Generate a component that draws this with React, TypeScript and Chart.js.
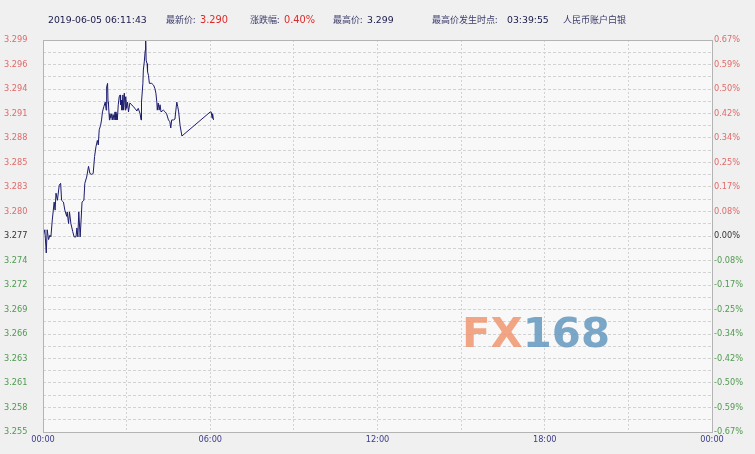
import React, { useEffect, useRef } from 'react';
import { Chart, registerables } from 'chart.js';

Chart.register(...registerables);

// ---- data ----
const prevClose = 3.2771;
const rangePct = 0.0067;

const timesMin = [
  0, 4, 7, 9, 12, 15, 17, 20, 24, 26, 28, 31, 35, 38, 40, 44, 47, 51, 52, 55, 57, 60,
  64, 67, 71, 73, 75, 77, 80, 82, 84, 88, 90, 94, 98, 101, 105, 108, 111, 114, 117, 119,
  121, 124, 126, 128, 131, 134, 136, 137, 139, 140, 141, 143, 144, 146, 148, 149, 151, 153,
  155, 157, 159, 160, 162, 164, 166, 167, 169, 170, 172, 173, 175, 177, 178, 180, 182, 184,
  187, 191, 194, 198, 202, 205, 209, 211, 212, 215, 216, 218, 220, 221, 222, 224, 225, 227,
  229, 234, 238, 241, 243, 245, 246, 248, 250, 252, 254, 256, 259, 263, 266, 270, 273, 275,
  277, 281, 284, 286, 288, 290, 292, 295, 299, 360, 362, 364, 365, 367,
];

const prices = [
  3.2770, 3.2778, 3.2752, 3.2778, 3.2767, 3.2772, 3.2770, 3.2789, 3.2809, 3.2800, 3.2819, 3.2811,
  3.2828, 3.2830, 3.2811, 3.2809, 3.2800, 3.2793, 3.2798, 3.2785, 3.2798, 3.2785,
  3.2776, 3.2770, 3.2770, 3.2780, 3.2770, 3.2798, 3.2770, 3.2789, 3.2809, 3.2811, 3.2830, 3.2837,
  3.2849, 3.2841, 3.2840, 3.2841, 3.2860, 3.2871, 3.2878, 3.2873,
  3.2890, 3.2895, 3.2901, 3.2910, 3.2916, 3.2921, 3.2912, 3.2938, 3.2942, 3.2921, 3.2918, 3.2901,
  3.2908, 3.2903, 3.2908, 3.2901, 3.2907, 3.2901,
  3.2910, 3.2901, 3.2908, 3.2901, 3.2918, 3.2927, 3.2929, 3.2918, 3.2923, 3.2912, 3.2929, 3.2912,
  3.2931, 3.2912, 3.2927, 3.2914, 3.2921, 3.2910,
  3.2920, 3.2918, 3.2916, 3.2914, 3.2911, 3.2914, 3.2908, 3.2901, 3.2921, 3.2942, 3.2957, 3.2966,
  3.2979, 3.2991, 3.2968, 3.2964, 3.2955, 3.2951,
  3.2942, 3.2942, 3.2940, 3.2936, 3.2931, 3.2921, 3.2912, 3.2920, 3.2912, 3.2918, 3.2910, 3.2910,
  3.2912, 3.2910, 3.2908, 3.2901, 3.2899, 3.2892,
  3.2901, 3.2901, 3.2902, 3.2912, 3.2921, 3.2916, 3.2910, 3.2895, 3.2883, 3.2910, 3.2910, 3.2903,
  3.2908, 3.2901,
];

const priceLabels = [
  '3.299', '3.296', '3.294', '3.291', '3.288', '3.285', '3.283', '3.280', '3.277',
  '3.274', '3.272', '3.269', '3.266', '3.263', '3.261', '3.258', '3.255',
];
const pctLabels = [
  '0.67%', '0.59%', '0.50%', '0.42%', '0.34%', '0.25%', '0.17%', '0.08%', '0.00%',
  '-0.08%', '-0.17%', '-0.25%', '-0.34%', '-0.42%', '-0.50%', '-0.59%', '-0.67%',
];
const timeLabels = ['00:00', '06:00', '12:00', '18:00', '00:00'];

const headerDate = '2019-06-05 06:11:43';
const headerLast = '3.290';
const headerChg = '0.40%';
const headerHigh = '3.299';
const headerHighTime = '03:39:55';
const headerName = '人民币账户白银';

// ---- styles ----
const RED = '#e06a6a';
const GREEN = '#4f9a4f';
const ZERO = '#333333';
const GRID = '#d2d2d2';
const FRAME = '#b4b4b4';

const yMin = prevClose * (1 - rangePct);
const yMax = prevClose * (1 + rangePct);

function buildYTicks(scale: any) {
  const n = 32;
  const ticks: any[] = [];
  for (let i = 0; i <= n; i++) ticks.push({ value: yMin + (i * (yMax - yMin)) / n });
  scale.ticks = ticks;
}

function tickColor(ctx: any) {
  const fromTop = 32 - ctx.index;
  if (fromTop < 16) return RED;
  if (fromTop === 16) return ZERO;
  return GREEN;
}

const bgPlugin = {
  id: 'bgPlugin',
  beforeDraw(chart: any) {
    const { ctx, chartArea } = chart;
    ctx.save();
    ctx.fillStyle = '#f8f8f8';
    ctx.fillRect(chartArea.left, chartArea.top, chartArea.right - chartArea.left, chartArea.bottom - chartArea.top);
    ctx.restore();
  },
  beforeDatasetsDraw(chart: any) {
    const { ctx } = chart;
    ctx.save();
    ctx.font = 'bold 40px "DejaVu Sans"';
    ctx.textBaseline = 'alphabetic';
    const w1 = ctx.measureText('FX').width;
    const w2 = ctx.measureText('168').width;
    const sx = 148 / (w1 + w2);
    ctx.translate(462, 347);
    ctx.scale(sx, 1);
    ctx.fillStyle = 'rgba(240,150,112,0.85)';
    ctx.fillText('FX', 0, 0);
    ctx.fillStyle = 'rgba(100,152,192,0.85)';
    ctx.fillText('168', w1, 0);
    ctx.restore();
  },
  afterDraw(chart: any) {
    const { ctx, chartArea } = chart;
    ctx.save();
    ctx.strokeStyle = FRAME;
    ctx.lineWidth = 1;
    ctx.setLineDash([]);
    ctx.strokeRect(
      Math.round(chartArea.left) + 0.5,
      Math.round(chartArea.top) + 0.5,
      Math.round(chartArea.right - chartArea.left),
      Math.round(chartArea.bottom - chartArea.top)
    );
    ctx.restore();
  },
};

export default function App() {
  const ref = useRef<HTMLCanvasElement>(null);

  useEffect(() => {
    if (!ref.current) return;
    const data = timesMin.map((t, i) => ({ x: t, y: prices[i] }));
    const chart = new Chart(ref.current, {
      type: 'line',
      data: {
        datasets: [
          {
            data,
            borderColor: '#1c1c6e',
            borderWidth: 1,
            pointRadius: 0,
            tension: 0,
            fill: false,
            yAxisID: 'y',
          },
        ],
      },
      options: {
        animation: false,
        responsive: false,
        events: [],
        layout: { padding: { top: 40, left: 4, right: 0, bottom: 0 } },
        plugins: { legend: { display: false }, tooltip: { enabled: false } },
        scales: {
          x: {
            type: 'linear',
            min: 0,
            max: 1440,
            afterBuildTicks: (scale: any) => {
              const t: any[] = [];
              for (let v = 0; v <= 1440; v += 180) t.push({ value: v });
              scale.ticks = t;
            },
            afterFit: (scale: any) => {
              scale.height = 22;
            },
            grid: { color: GRID, drawTicks: false, lineWidth: 1 },
            border: { display: false, dash: [2, 2] },
            ticks: {
              autoSkip: false,
              maxRotation: 0,
              padding: 3,
              color: '#3c3c8c',
              font: { family: '"DejaVu Sans"', size: 8.2 },
              callback: (v: any) => (Number(v) % 360 === 0 ? timeLabels[Number(v) / 360] : ''),
            },
          },
          y: {
            type: 'linear',
            position: 'left',
            min: yMin,
            max: yMax,
            afterBuildTicks: buildYTicks,
            afterFit: (scale: any) => {
              scale.width = 39;
            },
            grid: { color: GRID, drawTicks: false, lineWidth: 1 },
            border: { display: false, dash: [3, 2] },
            ticks: {
              autoSkip: false,
              padding: 2,
              crossAlign: 'far',
              color: tickColor,
              font: { family: '"DejaVu Sans"', size: 8.2 },
              callback: (_v: any, i: number) => (i % 2 === 0 ? priceLabels[16 - i / 2] : ''),
            },
          },
          y2: {
            type: 'linear',
            position: 'right',
            min: yMin,
            max: yMax,
            afterBuildTicks: buildYTicks,
            afterFit: (scale: any) => {
              scale.width = 43;
            },
            grid: { display: false, drawTicks: false },
            border: { display: false },
            ticks: {
              autoSkip: false,
              padding: 2,
              crossAlign: 'near',
              color: tickColor,
              font: { family: '"DejaVu Sans"', size: 8.2 },
              callback: (_v: any, i: number) => (i % 2 === 0 ? pctLabels[16 - i / 2] : ''),
            },
          },
        },
      },
      plugins: [bgPlugin],
    } as any);
    return () => chart.destroy();
  }, []);

  const base: React.CSSProperties = {
    position: 'absolute',
    top: 14,
    lineHeight: '12px',
    whiteSpace: 'nowrap',
  };
  const cn: React.CSSProperties = {
    ...base,
    fontFamily: '"Noto Sans CJK SC", sans-serif',
    fontSize: 9,
    color: '#3a3a6a',
  };
  const num: React.CSSProperties = {
    ...base,
    fontFamily: '"DejaVu Sans", sans-serif',
    fontSize: 9.3,
    color: '#1a1a4a',
  };
  const red: React.CSSProperties = { ...num, color: '#e02828', fontSize: 9.8 };

  return (
    <div
      style={{
        position: 'fixed',
        left: 0,
        top: 0,
        width: 755,
        height: 454,
        background: '#f0f0f0',
        overflow: 'hidden',
      }}
    >
      <canvas ref={ref} width={755} height={454} style={{ position: 'absolute', left: 0, top: 0 }} />
      <span style={{ ...num, left: 48 }}>{headerDate}</span>
      <span style={{ ...cn, left: 166 }}>最新价:</span>
      <span style={{ ...red, left: 200 }}>{headerLast}</span>
      <span style={{ ...cn, left: 250 }}>涨跌幅:</span>
      <span style={{ ...red, left: 284 }}>{headerChg}</span>
      <span style={{ ...cn, left: 333 }}>最高价:</span>
      <span style={{ ...num, left: 367 }}>{headerHigh}</span>
      <span style={{ ...cn, left: 432 }}>最高价发生时点:</span>
      <span style={{ ...num, left: 507 }}>{headerHighTime}</span>
      <span style={{ ...cn, left: 563 }}>{headerName}</span>
    </div>
  );
}
